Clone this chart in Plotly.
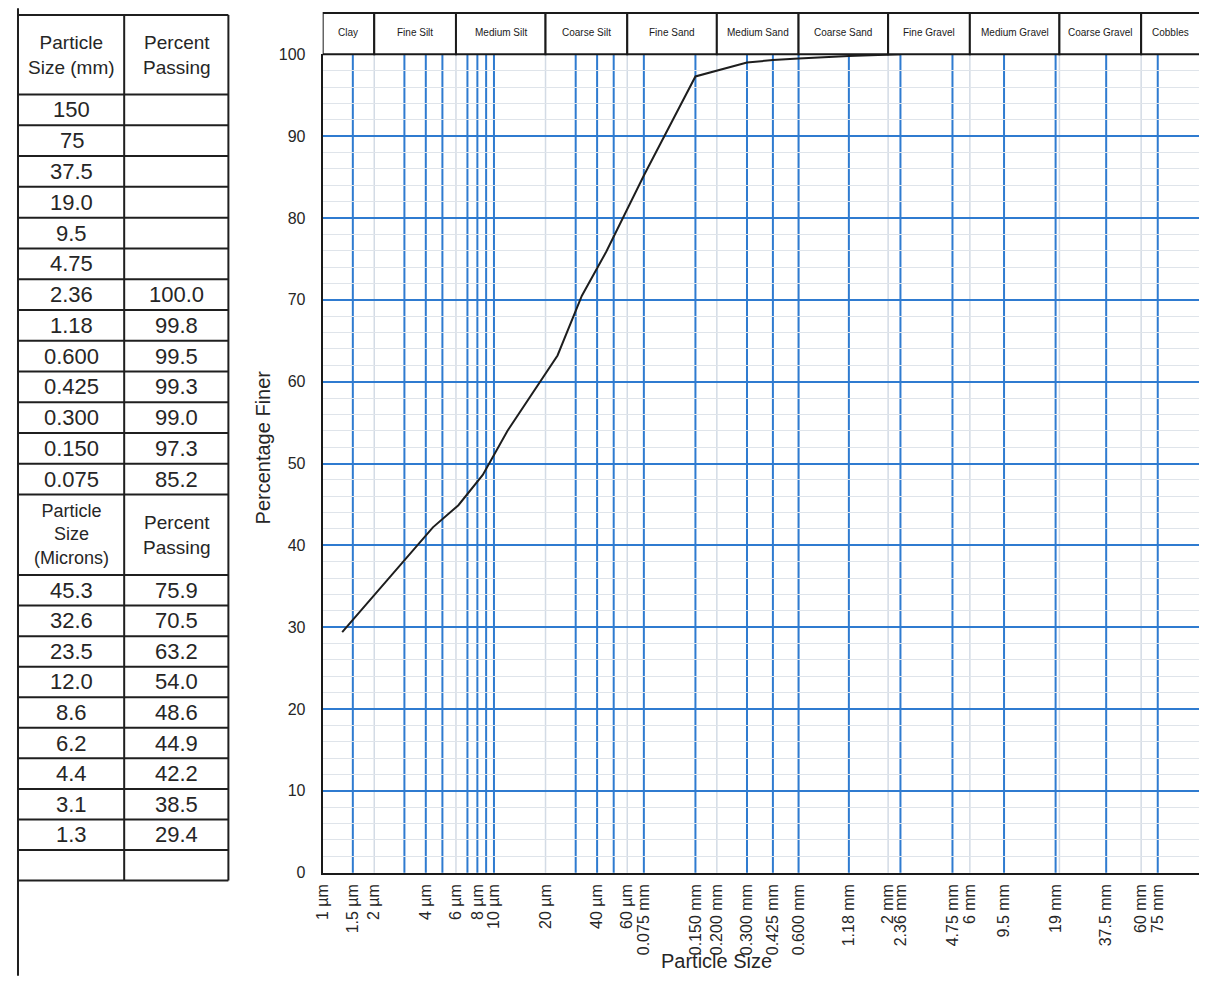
import math
import plotly.graph_objects as go

# Page is 1207x985; the browser body keeps an 8px margin, so the figure is
# sized to fit inside it and page coordinates are shifted by that margin.
PAGE_OFF = 8
W, H = 1207 - 2 * PAGE_OFF, 985 - 2 * PAGE_OFF

# ---------------- data ----------------
size_mm = ["150", "75", "37.5", "19.0", "9.5", "4.75", "2.36", "1.18",
           "0.600", "0.425", "0.300", "0.150", "0.075"]
pass_mm = ["", "", "", "", "", "", "100.0", "99.8", "99.5", "99.3",
           "99.0", "97.3", "85.2"]
size_um = ["45.3", "32.6", "23.5", "12.0", "8.6", "6.2", "4.4", "3.1", "1.3", ""]
pass_um = ["75.9", "70.5", "63.2", "54.0", "48.6", "44.9", "42.2", "38.5", "29.4", ""]

tick_vals_um = [1, 1.5, 2, 4, 6, 8, 10, 20, 40, 60, 75, 150, 200, 300, 425, 600,
                1180, 2000, 2360, 4750, 6000, 9500, 19000, 37500, 60000, 75000]
tick_text = ["1 µm", "1.5 µm", "2 µm", "4 µm", "6 µm", "8 µm", "10 µm", "20 µm",
             "40 µm", "60 µm", "0.075 mm", "0.150 mm", "0.200 mm", "0.300 mm",
             "0.425 mm", "0.600 mm", "1.18 mm", "2 mm", "2.36 mm", "4.75 mm",
             "6 mm", "9.5 mm", "19 mm", "37.5 mm", "60 mm", "75 mm"]

major_lines_um = [1.5, 3, 4, 5, 7, 8, 9, 10, 30, 40, 50, 75, 150, 300, 425, 600,
                  1180, 2360, 4750, 9500, 19000, 37500, 75000, 150000]
boundary_um = [2, 6, 20, 60, 200, 600, 2000, 6000, 20000, 60000]
class_names = ["Clay", "Fine Silt", "Medium Silt", "Coarse Silt", "Fine Sand",
               "Medium Sand", "Coarse Sand", "Fine Gravel", "Medium Gravel",
               "Coarse Gravel", "Cobbles"]

# ---------------- styling ----------------
FONT = "Liberation Sans, Arial, sans-serif"
TXT = "#262626"
BLUE = "#2f7bd0"
FAINT = "#d3dbe5"
MINOR = "#dfe4ea"
PLOT_L, PLOT_R, PLOT_T, PLOT_B = 316, 1199, 47, 880
DECADE_PX = 172.6
X_MIN_LOG = 0.0
X_MAX_LOG = (PLOT_R - PLOT_L) / DECADE_PX


def px(x):
    return (x - PAGE_OFF) / W


def py(y):
    return 1 - (y - PAGE_OFF) / H


# curve points from table
cx, cy = [], []
for s, p in zip(size_mm, pass_mm):
    if p:
        cx.append(float(s) * 1000.0)
        cy.append(float(p))
for s, p in zip(size_um, pass_um):
    if p:
        cx.append(float(s))
        cy.append(float(p))
order = sorted(range(len(cx)), key=lambda i: cx[i])
cx = [cx[i] for i in order]
cy = [cy[i] for i in order]

fig = go.Figure()
fig.add_trace(go.Scatter(x=cx, y=cy, mode="lines",
                         line=dict(color="#1e1e1e", width=2),
                         showlegend=False, hoverinfo="x+y"))

shapes = []
for v in boundary_um:
    shapes.append(dict(type="line", xref="x", yref="paper", x0=v, x1=v,
                       y0=py(PLOT_B), y1=py(PLOT_T),
                       line=dict(color=FAINT, width=1.5), layer="below"))
for v in major_lines_um:
    shapes.append(dict(type="line", xref="x", yref="paper", x0=v, x1=v,
                       y0=py(PLOT_B), y1=py(PLOT_T),
                       line=dict(color=BLUE, width=2), layer="between"))

# header classification boxes
edges = [10 ** X_MIN_LOG] + boundary_um + [10 ** (X_MAX_LOG + 0.2)]
annotations = []
for i, name in enumerate(class_names):
    a, b = edges[i], edges[i + 1]
    shapes.append(dict(type="rect", xref="x", yref="paper", x0=a, x1=b,
                       y0=py(PLOT_T), y1=py(5),
                       line=dict(color="#1a1a1a", width=2),
                       fillcolor="white", layer="above"))
    la = math.log10(a)
    lb = min(math.log10(b), X_MAX_LOG)
    annotations.append(dict(xref="x", yref="paper", x=(la + lb) / 2,
                            y=py(25), text=name, showarrow=False,
                            xanchor="center", yanchor="middle",
                            font=dict(family=FONT, size=10, color="#1a1a1a")))

# ---------------- left table ----------------
TL, TM, TR = 9, 116, 221
C1, C2 = 63, 169
line_style = dict(color="#1f1f1f", width=2)

shapes.append(dict(type="line", xref="paper", yref="paper", x0=px(TL), x1=px(TL),
                   y0=py(0), y1=py(985), line=line_style))

top_hdr_top, top_hdr_bot = 7, 88
top_rows_bot = 495
bot_hdr_bot = 577
bot_rows_bot = 888

row_h_top = (top_rows_bot - top_hdr_bot) / len(size_mm)
row_h_bot = (bot_rows_bot - bot_hdr_bot) / len(size_um)

hlines = [top_hdr_top, top_hdr_bot]
hlines += [top_hdr_bot + row_h_top * (i + 1) for i in range(len(size_mm))]
hlines += [bot_hdr_bot]
hlines += [bot_hdr_bot + row_h_bot * (i + 1) for i in range(len(size_um))]
for yv in hlines:
    shapes.append(dict(type="line", xref="paper", yref="paper", x0=px(TL), x1=px(TR),
                       y0=py(yv), y1=py(yv), line=line_style))
for xv in (TM, TR):
    shapes.append(dict(type="line", xref="paper", yref="paper", x0=px(xv), x1=px(xv),
                       y0=py(top_hdr_top), y1=py(bot_rows_bot), line=line_style))


def cell_text(x, y, text, size):
    annotations.append(dict(xref="paper", yref="paper", x=px(x), y=py(y),
                            text=text, showarrow=False, xanchor="center",
                            yanchor="middle",
                            font=dict(family=FONT, size=size, color=TXT)))


hdr_mid = (top_hdr_top + top_hdr_bot) / 2
cell_text(C1, hdr_mid, "Particle<br>Size (mm)", 19)
cell_text(C2, hdr_mid, "Percent<br>Passing", 19)
for i, (s, p) in enumerate(zip(size_mm, pass_mm)):
    yc = top_hdr_bot + row_h_top * (i + 0.5)
    cell_text(C1, yc, s, 22)
    if p:
        cell_text(C2, yc, p, 22)

hdr2_mid = (top_rows_bot + bot_hdr_bot) / 2
cell_text(C1, hdr2_mid, "Particle<br>Size<br>(Microns)", 18)
cell_text(C2, hdr2_mid, "Percent<br>Passing", 19)
for i, (s, p) in enumerate(zip(size_um, pass_um)):
    yc = bot_hdr_bot + row_h_bot * (i + 0.5)
    if s:
        cell_text(C1, yc, s, 22)
    if p:
        cell_text(C2, yc, p, 22)

# axis titles
annotations.append(dict(xref="paper", yref="paper", x=px(713), y=py(970),
                        text="Particle Size", showarrow=False,
                        xanchor="center", yanchor="middle",
                        font=dict(family=FONT, size=20, color=TXT)))
annotations.append(dict(xref="paper", yref="paper", x=px(256), y=py(447),
                        text="Percentage Finer", showarrow=False, textangle=-90,
                        xanchor="center", yanchor="middle",
                        font=dict(family=FONT, size=20, color=TXT)))

fig.update_layout(
    width=W, height=H,
    margin=dict(l=0, r=0, t=0, b=0),
    paper_bgcolor="white", plot_bgcolor="white",
    font=dict(family=FONT, color=TXT),
    showlegend=False,
    shapes=shapes,
    annotations=annotations,
    xaxis=dict(type="log", range=[X_MIN_LOG, X_MAX_LOG],
               domain=[px(PLOT_L), px(PLOT_R)],
               showgrid=False, zeroline=False,
               showline=True, linecolor="#1a1a1a", linewidth=2,
               tickmode="array", tickvals=tick_vals_um, ticktext=tick_text,
               tickangle=-90, ticks="", ticklabelstandoff=3,
               tickfont=dict(family=FONT, size=16, color=TXT)),
    yaxis=dict(range=[0, 100], domain=[py(PLOT_B), py(PLOT_T)],
               tickmode="array", tickvals=list(range(0, 101, 10)),
               showgrid=True, gridcolor=BLUE, gridwidth=2,
               minor=dict(dtick=2, showgrid=True, gridcolor=MINOR, gridwidth=1),
               zeroline=False, showline=True, linecolor="#1a1a1a", linewidth=2,
               ticks="", ticklabelstandoff=12,
               tickfont=dict(family=FONT, size=16, color=TXT)),
)

fig.write_html("out.html", config={"displayModeBar": False})
